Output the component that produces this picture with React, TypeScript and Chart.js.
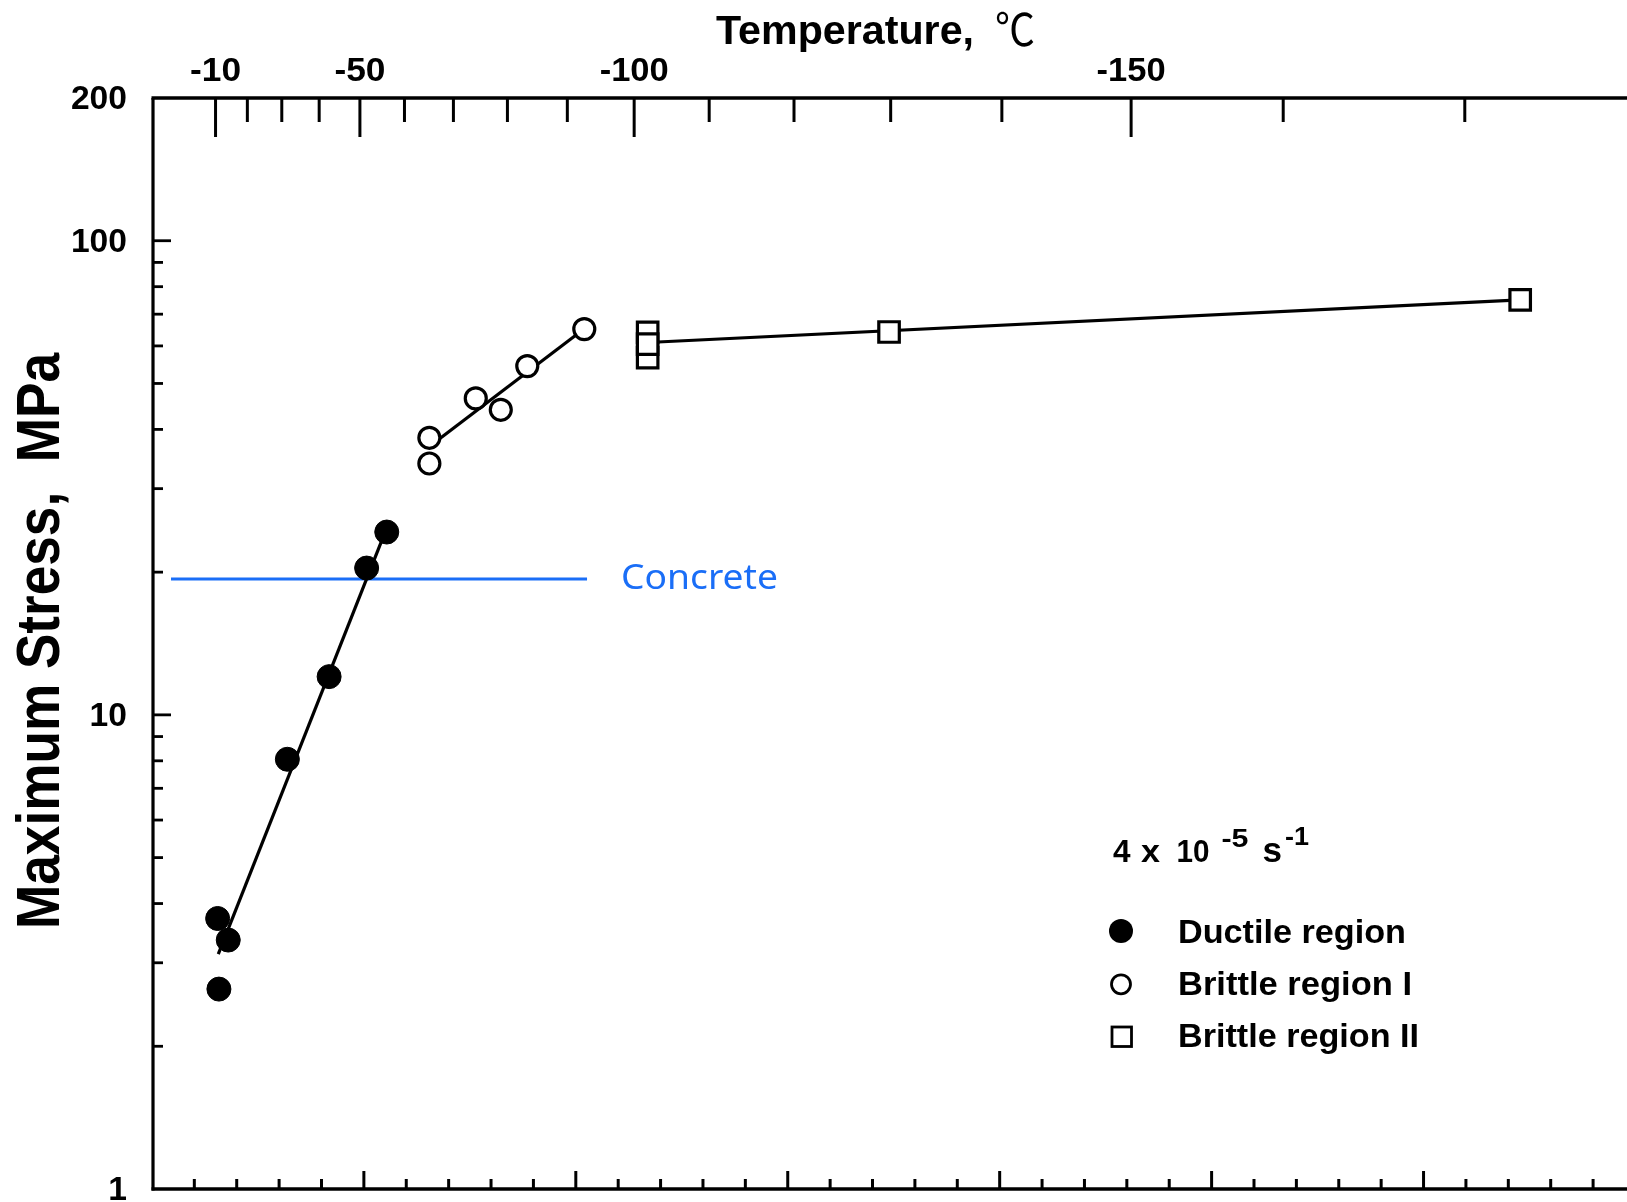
import React, { useEffect, useRef } from 'react';
import { Chart, registerables } from 'chart.js';

Chart.register(...registerables);

// x values are 1000/T (K^-1), y values are maximum stress (MPa)
const ductileInvT = [3.810, 3.860, 3.816, 4.139, 4.336, 4.513, 4.608];
const ductileStress = [3.72, 3.35, 2.64, 8.06, 12.04, 20.4, 24.3];
const ductileFitInvT = [3.813, 4.595];
const ductileFitStress = [3.13, 23.96];

const brittle1InvT = [4.809, 4.809, 5.028, 5.146, 5.271, 5.540];
const brittle1Stress = [38.4, 33.9, 46.5, 44.0, 54.4, 65.1];
const brittle1FitInvT = [4.809, 5.540];
const brittle1FitStress = [36.8, 65.2];

const brittle2InvT = [5.839, 5.839, 5.839, 6.978, 9.956];
const brittle2Stress = [64.1, 56.7, 60.5, 64.2, 75.0];
const brittle2FitInvT = [5.839, 9.956];
const brittle2FitStress = [61.0, 75.0];

const concreteInvT = [3.59, 5.553];
const concreteStress = [19.35, 19.35];

// axis ticks
const topTickTemps = [-10, -20, -30, -40, -50, -60, -70, -80, -90, -100, -110, -120, -130, -140, -150, -160, -170];
const topLabelTemps = [-10, -50, -100, -150];
const bottomMinorTicks = [3.7, 3.9, 4.1, 4.3, 4.7, 4.9, 5.1, 5.3, 5.7, 5.9, 6.1, 6.3, 6.7, 6.9, 7.1, 7.3, 7.7, 7.9, 8.1, 8.3, 8.7, 8.9, 9.1, 9.3, 9.7, 9.9, 10.1, 10.3];
const bottomMajorTicks = [4.5, 5.5, 6.5, 7.5, 8.5, 9.5];
const yMinorTicks = [2, 3, 4, 5, 6, 7, 8, 9, 20, 30, 40, 50, 60, 70, 80, 90];
const yMajorTicks = [10, 100];
const yLabels = [1, 10, 100, 200];

const legendItems = ['Ductile region', 'Brittle region I', 'Brittle region II'];

const X_MIN = 3.505;
const X_MAX = 10.46;
const Y_MIN = 1;
const Y_MAX = 200;

const BOLD = '"Liberation Sans", Arial, Helvetica, sans-serif';
const BLUE = '#1a6ef7';

function pts(xs: number[], ys: number[]) {
  return xs.map((x, i) => ({ x, y: ys[i] }));
}

function text(ctx: CanvasRenderingContext2D, s: string, x: number, y: number, font: string, align: CanvasTextAlign = 'left', width?: number, color = '#000') {
  ctx.save();
  ctx.font = font;
  ctx.fillStyle = color;
  ctx.textBaseline = 'alphabetic';
  ctx.textAlign = align;
  ctx.translate(x, y);
  if (width) {
    const m = ctx.measureText(s).width;
    ctx.scale(width / m, 1);
  }
  ctx.fillText(s, 0, 0);
  ctx.restore();
}

function line(ctx: CanvasRenderingContext2D, x1: number, y1: number, x2: number, y2: number, w: number) {
  ctx.save();
  ctx.strokeStyle = '#000';
  ctx.lineWidth = w;
  ctx.lineCap = 'butt';
  ctx.beginPath();
  ctx.moveTo(x1, y1);
  ctx.lineTo(x2, y2);
  ctx.stroke();
  ctx.restore();
}

const framePlugin = {
  id: 'frame',
  beforeDraw(chart: any) {
    const ctx = chart.ctx as CanvasRenderingContext2D;
    ctx.save();
    ctx.fillStyle = '#fff';
    ctx.fillRect(0, 0, chart.width, chart.height);
    ctx.restore();
  },
  afterDraw(chart: any) {
    const ctx = chart.ctx as CanvasRenderingContext2D;
    const xs = chart.scales.x;
    const ys = chart.scales.y;
    const a = chart.chartArea;
    const L = a.left, R = a.right, T = a.top, B = a.bottom;

    // axis lines
    line(ctx, L - 1.5, T, R, T, 3.5);
    line(ctx, L, T, L, B + 1.5, 3.2);
    line(ctx, L - 1.5, B, R, B, 3.4);

    // top ticks (temperature, deg C)
    topTickTemps.forEach((t) => {
      const px = xs.getPixelForValue(1000 / (273.15 + t));
      const major = topLabelTemps.includes(t);
      line(ctx, px, T, px, T + (major ? 39 : 24), 3);
    });
    topLabelTemps.forEach((t) => {
      const px = xs.getPixelForValue(1000 / (273.15 + t));
      const s = String(t);
      text(ctx, s, px, 81, `bold 34px ${BOLD}`, 'center', s.length > 3 ? 69 : 51);
    });

    // bottom ticks
    bottomMinorTicks.forEach((v) => {
      const px = xs.getPixelForValue(v);
      line(ctx, px, B, px, B - 10, 3);
    });
    bottomMajorTicks.forEach((v) => {
      const px = xs.getPixelForValue(v);
      line(ctx, px, B, px, B - 18, 3);
    });

    // left ticks
    yMinorTicks.forEach((v) => {
      const py = ys.getPixelForValue(v);
      line(ctx, L, py, L + 10, py, 2.8);
    });
    yMajorTicks.forEach((v) => {
      const py = ys.getPixelForValue(v);
      line(ctx, L, py, L + 18, py, 2.8);
    });
    yLabels.forEach((v) => {
      const py = ys.getPixelForValue(v);
      const s = String(v);
      text(ctx, s, 127, py + 11, `bold 33px ${BOLD}`, 'right', s.length * 18.7);
    });

    // titles
    text(ctx, 'Temperature,', 716, 44, `bold 41px ${BOLD}`, 'left', 258);
    text(ctx, '\u2103', 995, 46, '44px "Noto Sans CJK SC", "DejaVu Sans", sans-serif', 'left', 40);

    ctx.save();
    ctx.translate(59, 641);
    ctx.rotate(-Math.PI / 2);
    text(ctx, 'Maximum Stress,  MPa', 0, 0, `bold 61px ${BOLD}`, 'center', 576);
    ctx.restore();

    // concrete label
    text(ctx, 'Concrete', 621, 588.5, '35px "Noto Sans", "Open Sans", sans-serif', 'left', 157, BLUE);

    // legend header: 4 x 10^-5 s^-1
    text(ctx, '4', 1113, 862, `bold 31px ${BOLD}`, 'left', 17.5);
    text(ctx, 'x', 1141, 862, `bold 31px ${BOLD}`, 'left', 19);
    text(ctx, '10', 1176.5, 862, `bold 31px ${BOLD}`, 'left', 33);
    text(ctx, '-5', 1221.5, 847, `bold 26px ${BOLD}`, 'left', 27);
    text(ctx, 's', 1262.5, 862, `bold 35px ${BOLD}`, 'left', 19.5);
    text(ctx, '-1', 1285, 845, `bold 25px ${BOLD}`, 'left', 24);

    // legend markers
    ctx.save();
    ctx.fillStyle = '#000';
    ctx.beginPath();
    ctx.arc(1121, 931, 12, 0, Math.PI * 2);
    ctx.fill();
    ctx.strokeStyle = '#000';
    ctx.lineWidth = 2.8;
    ctx.beginPath();
    ctx.arc(1121, 984.3, 9.5, 0, Math.PI * 2);
    ctx.stroke();
    ctx.strokeRect(1112, 1027, 19.5, 19.5);
    ctx.restore();

    const legendBaselines = [942.5, 994.5, 1047];
    const legendWidths = [228, 234, 241];
    legendItems.forEach((s, i) => {
      text(ctx, s, 1178, legendBaselines[i], `bold 33px ${BOLD}`, 'left', legendWidths[i]);
    });
  },
};

export default function App() {
  const ref = useRef<HTMLCanvasElement | null>(null);

  useEffect(() => {
    if (!ref.current) return;
    const black = '#000';
    const chart = new Chart(ref.current, {
      type: 'scatter',
      data: {
        datasets: [
          {
            label: 'Ductile region',
            data: pts(ductileInvT, ductileStress),
            showLine: false,
            pointStyle: 'circle',
            pointRadius: 12,
            backgroundColor: black,
            borderColor: black,
            borderWidth: 1,
            order: 0,
          },
          {
            label: 'Brittle region I',
            data: pts(brittle1InvT, brittle1Stress),
            showLine: false,
            pointStyle: 'circle',
            pointRadius: 10.5,
            backgroundColor: '#fff',
            borderColor: black,
            borderWidth: 3.2,
            order: 0,
          },
          {
            label: 'Brittle region II',
            data: pts(brittle2InvT, brittle2Stress),
            showLine: false,
            pointStyle: 'rect',
            pointRadius: 14.5,
            backgroundColor: '#fff',
            borderColor: black,
            borderWidth: 3.2,
            order: 0,
          },
          {
            label: 'Ductile fit',
            data: pts(ductileFitInvT, ductileFitStress),
            showLine: true,
            pointRadius: 0,
            borderColor: black,
            borderWidth: 3.2,
            order: 1,
          },
          {
            label: 'Brittle I fit',
            data: pts(brittle1FitInvT, brittle1FitStress),
            showLine: true,
            pointRadius: 0,
            borderColor: black,
            borderWidth: 3.2,
            order: 1,
          },
          {
            label: 'Brittle II fit',
            data: pts(brittle2FitInvT, brittle2FitStress),
            showLine: true,
            pointRadius: 0,
            borderColor: black,
            borderWidth: 3.2,
            order: 1,
          },
          {
            label: 'Concrete',
            data: pts(concreteInvT, concreteStress),
            showLine: true,
            pointRadius: 0,
            borderColor: BLUE,
            borderWidth: 3,
            order: 1,
          },
        ],
      },
      options: {
        animation: false,
        responsive: false,
        devicePixelRatio: 1,
        events: [],
        layout: { autoPadding: false, padding: { left: 153, top: 98, right: 0, bottom: 13 } },
        scales: {
          x: { type: 'linear', min: X_MIN, max: X_MAX, display: false },
          y: { type: 'logarithmic', min: Y_MIN, max: Y_MAX, display: false },
        },
        plugins: {
          legend: { display: false },
          tooltip: { enabled: false },
        },
      },
      plugins: [framePlugin],
    } as any);
    return () => chart.destroy();
  }, []);

  return (
    <div style={{ position: 'absolute', left: 0, top: 0, width: 1627, height: 1202, background: '#fff' }}>
      <canvas ref={ref} width={1627} height={1202} style={{ display: 'block', width: 1627, height: 1202 }} />
    </div>
  );
}
